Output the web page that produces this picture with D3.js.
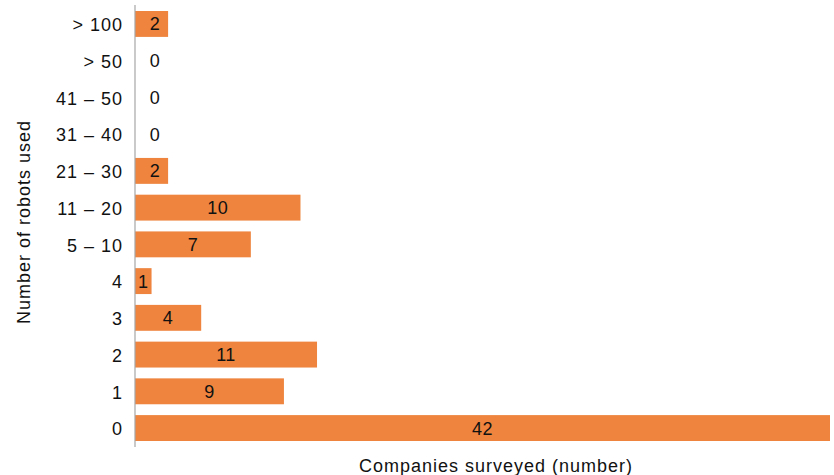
<!DOCTYPE html>
<html>
<head>
<meta charset="utf-8">
<script src="https://cdn.jsdelivr.net/npm/d3@7/dist/d3.min.js"></script>
<style>
  body { margin: 0; background: #fff; }
  text { font-family: "Liberation Sans", Arial, Helvetica, sans-serif; fill: #111; }
</style>
</head>
<body>
<svg id="chart" width="834" height="475"></svg>
<script>
// robots-used buckets, top to bottom
let categories = ["> 100", "> 50", "41 \u2013 50", "31 \u2013 40", "21 \u2013 30", "11 \u2013 20", "5 \u2013 10", "4", "3", "2", "1", "0"]
let companies = [2, 0, 0, 0, 2, 10, 7, 1, 4, 11, 9, 42]

let svg = d3.select("#chart")
let margin = { top: 11, right: 4, bottom: 34, left: 135 }

let xScale = d3.scaleLinear()
    .domain([0, 42])
    .range([0, 695])

let yScale = d3.scaleBand()
    .domain(categories)
    .range([0, 430])
    .paddingInner(0.295)
    .paddingOuter(0)

let g = svg.append("g")
    .attr("transform", "translate(" + margin.left + "," + margin.top + ")")

let rows = categories.map((c, i) => ({ cat: c, value: companies[i] }))

g.selectAll("rect.bar")
    .data(rows)
    .enter().append("rect")
        .attr("class", "bar")
        .attr("x", 0)
        .attr("y", d => yScale(d.cat))
        .attr("width", d => xScale(d.value))
        .attr("height", yScale.bandwidth())
        .style("fill", "#ee843d")

// value labels
g.selectAll("text.val")
    .data(rows)
    .enter().append("text")
        .attr("class", "val")
        .attr("x", d => d.value > 0 ? Math.max(xScale(d.value) / 2, d.value > 1 ? 20 : 0) : 20)
        .attr("y", d => yScale(d.cat) + yScale.bandwidth() / 2)
        .attr("dy", "0.36em")
        .style("text-anchor", "middle")
        .style("font-size", "18px")
        .style("letter-spacing", "0.5px")
        .text(d => d.value)

// y axis: line plus category labels
let yAxis = d3.axisLeft(yScale).tickSize(0).tickPadding(12)
let gY = g.append("g").call(yAxis)
gY.select(".domain").remove()
gY.selectAll("text")
    .style("font-size", "18px")
    .style("letter-spacing", "1px")
    .style("font-family", "'Liberation Sans', Arial, sans-serif")
    .attr("dy", "0.4em")
    .attr("fill", "#111")

g.append("line")
    .attr("x1", 0).attr("x2", 0)
    .attr("y1", -6).attr("y2", 436)
    .style("stroke", "#a6a6a6")
    .style("stroke-width", 1.2)

svg.append("text")
    .attr("transform", "rotate(-90)")
    .attr("x", -222)
    .attr("y", 24)
    .attr("dy", "0.36em")
    .style("text-anchor", "middle")
    .style("font-size", "18px")
    .style("letter-spacing", "1px")
    .text("Number of robots used")

svg.append("text")
    .attr("x", 496)
    .attr("y", 466)
    .attr("dy", "0.36em")
    .style("text-anchor", "middle")
    .style("font-size", "18px")
    .style("letter-spacing", "1px")
    .text("Companies surveyed (number)")
</script>
</body>
</html>
